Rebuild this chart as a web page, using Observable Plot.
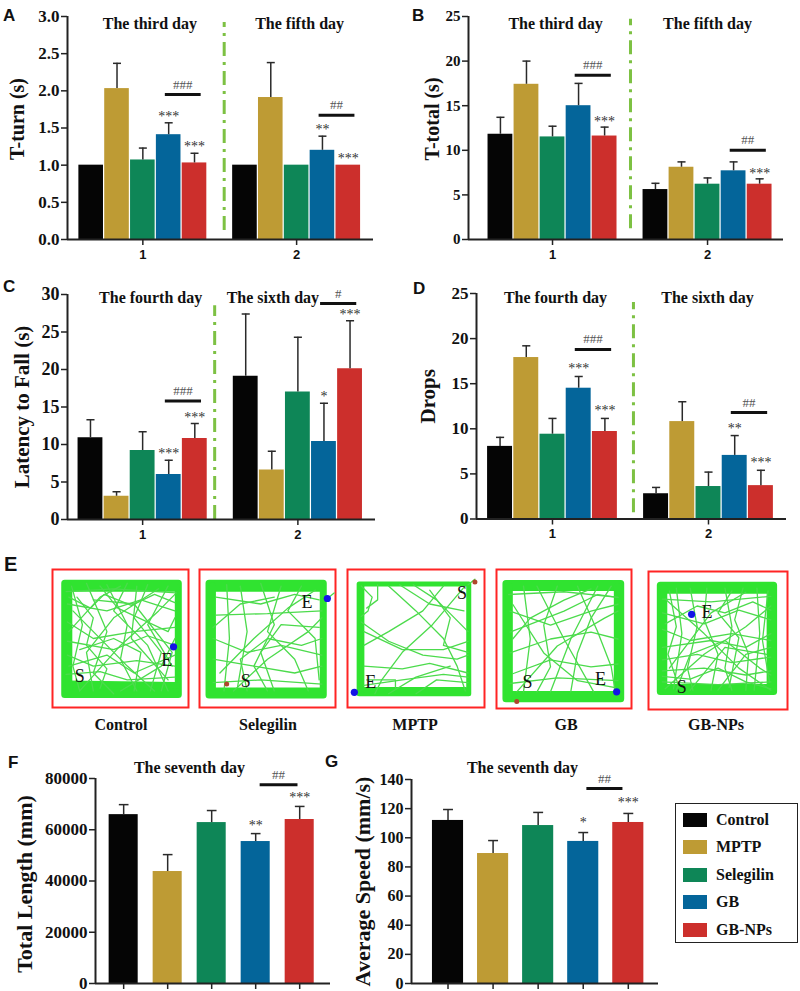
<!DOCTYPE html>
<html><head><meta charset="utf-8">
<script src="https://cdn.jsdelivr.net/npm/d3@7"></script>
<script src="https://cdn.jsdelivr.net/npm/@observablehq/plot@0.6"></script>
<style>
body{margin:0;background:#fff;}
#root{position:relative;width:800px;height:991px;overflow:hidden;background:#fff;}
.pn{position:absolute;}
.pn svg{overflow:visible;}
.let{position:absolute;font-family:"Liberation Sans",Arial,sans-serif;font-weight:bold;font-size:17px;line-height:17px;color:#111;}
.blab{position:absolute;font-family:"Liberation Serif",serif;font-weight:bold;font-size:16px;line-height:16px;color:#111;transform:translateX(-50%);white-space:nowrap;}
#legend{position:absolute;left:675px;top:803px;width:121px;height:138px;border:1.5px solid #222;font-family:"Liberation Serif",serif;font-weight:bold;font-size:16px;color:#111;}
#legend .row{position:absolute;left:7px;height:16px;display:flex;align-items:center;}
#legend .sw{width:24px;height:14px;margin-right:9px;}
</style></head>
<body><div id="root"></div>
<script>
// ---------- data ----------
const groups = ["Control", "MPTP", "Selegilin", "GB", "GB-NPs"];
const colors = ["#050505", "#BE9B34", "#0E8657", "#04659A", "#CC2F2C"];

// A: T-turn (s)
const daysA = ["The third day", "The fifth day"];
const tTurnMean1 = [1.00, 2.03, 1.07, 1.41, 1.03];
const tTurnErr1  = [0, 0.34, 0.16, 0.16, 0.13];
const tTurnMean2 = [1.00, 1.91, 1.00, 1.20, 1.00];
const tTurnErr2  = [0, 0.47, 0, 0.19, 0];
const starsA = [{g:1,i:3,t:"***"},{g:1,i:4,t:"***"},{g:2,i:3,t:"**"},{g:2,i:4,t:"***"}];
const sigsA = [{g:1,y:1.95,t:"###"},{g:2,y:1.67,t:"##"}];

// B: T-total (s)
const tTotalMean1 = [11.8, 17.4, 11.5, 15.0, 11.6];
const tTotalErr1  = [1.9, 2.6, 1.2, 2.5, 1.0];
const tTotalMean2 = [5.6, 8.1, 6.2, 7.7, 6.2];
const tTotalErr2  = [0.7, 0.6, 0.7, 1.0, 0.6];
const starsB = [{g:1,i:4,t:"***"},{g:2,i:4,t:"***"}];
const sigsB = [{g:1,y:18.4,t:"###"},{g:2,y:10.0,t:"##"}];

// C: Latency to Fall (s)
const daysC = ["The fourth day", "The sixth day"];
const latMean1 = [10.9, 3.1, 9.2, 6.0, 10.8];
const latErr1  = [2.4, 0.6, 2.5, 1.9, 2.0];
const latMean2 = [19.1, 6.6, 17.0, 10.4, 20.1];
const latErr2  = [8.3, 2.5, 7.3, 5.1, 6.4];
const starsC = [{g:1,i:3,t:"***"},{g:1,i:4,t:"***"},{g:2,i:3,t:"*"},{g:2,i:4,t:"***"}];
const sigsC = [{g:1,y:15.8,t:"###"},{g:2,y:28.8,t:"#"}];

// D: Drops
const dropMean1 = [8.05, 17.9, 9.4, 14.5, 9.7];
const dropErr1  = [1.0, 1.3, 1.75, 1.3, 1.45];
const dropMean2 = [2.8, 10.8, 3.6, 7.05, 3.7];
const dropErr2  = [0.7, 2.2, 1.6, 2.2, 1.7];
const starsD = [{g:1,i:3,t:"***"},{g:1,i:4,t:"***"},{g:2,i:3,t:"**"},{g:2,i:4,t:"***"}];
const sigsD = [{g:1,y:18.8,t:"###"},{g:2,y:11.8,t:"##"}];

// F: Total Length (mm), the seventh day
const lengthMean = [65900, 43700, 62800, 55400, 64000];
const lengthErr  = [3900, 6600, 4700, 3100, 5100];
const starsF = [{i:3,t:"**"},{i:4,t:"***"}];
const sigsF = [{y:77600,t:"##"}];

// G: Average Speed (mm/s), the seventh day
const speedMean = [111.9, 89.2, 108.4, 97.5, 110.5];
const speedErr  = [7.5, 8.9, 9.0, 6.1, 6.2];
const starsG = [{i:3,t:"*"},{i:4,t:"***"}];
const sigsG = [{y:133.8,t:"##"}];

// E: open-field trajectories (x, y in % of the arena box, y downwards)
const boxNames = ["Control", "Selegilin", "MPTP", "GB", "GB-NPs"];
const wall1 = [[[9,10],[92.5,10],[92.5,90.5],[9,90.5],[9,10]], [[11,13.5],[91,13.5]], [[11,86.5],[91,86.5]], [[11,83],[91,84]], [[12,12],[12,88]]];
const wall2 = [[[7,10],[91,10],[91,91],[7,91],[7,10]], [[9,13.5],[90,13.5]], [[9,88],[90,88]], [[9.5,12],[9.5,89]]];
const wall3 = [[[8.5,10.5],[88.5,10.5],[88.5,90],[8.5,90],[8.5,10.5]], [[10.5,12],[10.5,88]], [[12,87],[86,87]]];
const wall4 = [[[7,10],[92,10],[92,93],[7,93],[7,10]], [[9,13],[90,13]], [[9,90],[90,90]], [[9.5,12],[9.5,91]], [[89.5,12],[89.5,91]]];
const wall5 = [[[8.5,10],[90,10],[90,87],[8.5,87],[8.5,10]], [[11,13.5],[88,13.5]], [[11,84],[88,84]], [[11,12],[11,85]], [[87.5,12],[87.5,85]]];
const track1 = [
 [[10,16],[45,14],[91,17]], [[10,76],[35,74],[55,80],[90,78]],
 [[14,12],[22,40],[15,70],[20,88]], [[25,10],[40,45],[30,75],[45,90]],
 [[40,11],[55,40],[50,65],[62,88]], [[55,10],[45,30],[70,55],[85,88]],
 [[70,11],[60,35],[80,60],[72,88]], [[85,12],[70,40],[88,70]],
 [[11,25],[40,30],[65,22],[90,30]], [[11,38],[30,50],[60,45],[90,42]],
 [[11,52],[45,58],[70,48],[90,55]], [[11,62],[30,70],[62,66],[90,70]],
 [[12,45],[35,20],[50,12]], [[20,88],[50,55],[78,30],[90,18]],
 [[15,30],[55,70],[75,88]], [[30,88],[25,60],[45,35],[78,14]],
 [[60,88],[65,60],[45,50],[20,58]], [[80,88],[88,60],[60,25],[30,22]],
 [[12,70],[40,62],[60,75],[90,62]], [[35,12],[48,28],[85,45],[90,35]],
 [[50,88],[80,70],[90,50]], [[18,20],[30,35],[25,55],[40,72],[35,86]],
 [[12,20],[28,28],[38,18],[58,26],[75,18],[90,24]], [[62,12],[58,50],[85,80]]
];
const track2 = [
 [[10,82],[45,80],[90,83]], [[12,33],[50,32],[90,30]],
 [[20,11],[22,50],[18,88]], [[30,12],[35,45],[28,85]],
 [[45,10],[55,40],[40,70],[50,88]], [[60,12],[50,45],[70,65],[80,88]],
 [[75,12],[65,30],[85,50],[88,80]], [[10,50],[35,60],[60,55],[90,62]],
 [[10,65],[40,70],[70,75],[90,70]], [[12,20],[45,25],[70,18],[88,22]],
 [[15,75],[40,50],[65,28],[85,15]], [[25,88],[50,65],[80,45],[90,35]],
 [[10,42],[30,25],[55,20]], [[55,88],[45,60],[60,40],[88,42]],
 [[35,88],[30,65],[50,50],[75,55],[90,50]], [[94,21],[99,17]]
];
const track3 = [
 [[10,12],[18,20],[15,30],[10,34]], [[22,11],[22,22],[14,28]],
 [[30,12],[50,30],[70,50],[80,70],[86,88]], [[38,11],[60,25],[85,30]],
 [[48,11],[65,22],[88,45]], [[70,12],[55,30],[30,45],[12,55]],
 [[85,13],[62,40],[40,60],[25,80],[20,90]], [[10,38],[30,52],[55,62],[80,65],[88,62]],
 [[12,45],[40,58],[70,58],[88,52]], [[12,70],[40,72],[60,68],[88,75]],
 [[12,84],[40,80],[70,76],[88,78]], [[14,80],[35,80],[35,86]],
 [[50,90],[65,80],[88,82]], [[30,90],[50,78],[75,70]],
 [[60,15],[75,35],[70,55],[88,60]], [[88,11],[93,7]]
];
const track4 = [
 [[10,30],[40,40],[70,30],[90,25]], [[10,45],[50,30],[75,18],[90,20]],
 [[10,60],[40,50],[70,45],[90,50]], [[12,75],[40,65],[70,70],[90,68]],
 [[10,82],[45,78],[90,80]], [[20,12],[25,50],[20,88]],
 [[30,12],[50,50],[72,88]], [[45,12],[35,40],[40,70],[30,88]],
 [[60,12],[75,45],[85,70],[88,88]], [[75,12],[55,50],[40,88]],
 [[85,12],[70,35],[60,60],[55,88]], [[12,25],[35,60],[60,80],[88,85]],
 [[15,88],[45,55],[80,35],[90,30]], [[12,50],[25,35],[50,22],[70,14]],
 [[9,18],[50,16],[90,20]]
];
const track5 = [
 [[10,20],[45,22],[88,18]], [[10,80],[50,82],[88,80]],
 [[10,72],[40,70],[70,75],[88,72]], [[10,64],[35,60],[60,66],[88,62]],
 [[20,12],[24,45],[18,85]], [[30,12],[35,40],[28,70],[32,86]],
 [[42,12],[40,35],[50,60],[45,86]], [[55,12],[60,40],[55,70],[60,86]],
 [[68,12],[62,35],[72,60],[70,86]], [[78,12],[80,45],[76,86]],
 [[86,14],[82,50],[87,80]], [[10,30],[40,38],[65,28],[88,35]],
 [[10,42],[30,50],[60,45],[88,50]], [[10,55],[45,50],[70,55],[88,45]],
 [[12,85],[40,60],[70,40],[88,25]], [[12,20],[40,45],[65,70],[88,86]],
 [[15,70],[45,30],[70,15]], [[30,86],[55,55],[85,60]],
 [[12,38],[35,25],[55,30],[75,22],[88,28]], [[50,86],[70,60],[88,55]],
 [[20,86],[30,60],[55,50],[80,70],[88,75]], [[10,76],[30,78],[50,70],[70,80],[88,85]],
 [[15,14],[20,40],[14,60],[22,84]], [[60,14],[50,30],[65,48],[58,84]]
];
const endDots = [[[89,56]], [[94,21]], [[5,89]], [[89,88]], [[31,31]]];
const startDots = [[], [[20,83]], [[93,9]], [[15,95]], []];
const startLetters = [[20,77], [34,81], [83.5,17], [23,81], [24,84]];
const endLetters = [[84,66], [79,24], [17,82], [77,79], [42,29.5]];

// ---------- layout ----------
const root = document.getElementById("root");
function place(node, left, top) {
  const d = document.createElement("div");
  d.className = "pn"; d.style.left = left + "px"; d.style.top = top + "px";
  d.appendChild(node); root.appendChild(d);
}
function html(cls, text, left, top, extra) {
  const d = document.createElement("div");
  d.className = cls; d.textContent = text;
  d.style.left = left + "px"; d.style.top = top + "px";
  if (extra) Object.assign(d.style, extra);
  root.appendChild(d);
}
const color = {domain: groups, range: colors};
const serif = "Liberation Serif";

function grouped(c) {
  const pitch = 0.168, bw = 0.16;
  const cx = (g, i) => g + (i - 2) * pitch;
  const bars = [];
  c.means.forEach((arr, gi) => arr.forEach((v, i) => bars.push({g: gi + 1, i, v, e: c.errs[gi][i], name: groups[i]})));
  const top = (g, i) => c.means[g - 1][i] + c.errs[g - 1][i];
  const withErr = bars.filter(d => d.e > 0);
  const cap = 0.026;
  const plot = Plot.plot({
    width: c.width, height: c.height,
    marginLeft: c.mL, marginRight: c.mR, marginTop: c.mT, marginBottom: c.mB,
    style: {fontFamily: serif, background: "transparent", color: "#111"},
    x: {domain: c.xDomain, axis: null},
    y: {domain: c.yDomain, axis: null},
    color,
    marks: [
      Plot.rect(bars, {x1: d => cx(d.g, d.i) - bw / 2, x2: d => cx(d.g, d.i) + bw / 2, y1: 0, y2: "v", fill: "name"}),
      Plot.ruleX(withErr, {x: d => cx(d.g, d.i), y1: "v", y2: d => d.v + d.e, stroke: "#2a2a2a", strokeWidth: 1.5}),
      Plot.link(withErr, {x1: d => cx(d.g, d.i) - cap, x2: d => cx(d.g, d.i) + cap, y1: d => d.v + d.e, y2: d => d.v + d.e, stroke: "#2a2a2a", strokeWidth: 1.5}),
      Plot.ruleX([c.divX], {y1: c.divY[0], y2: c.divY[1], stroke: "#7DC143", strokeWidth: 3, strokeDasharray: "14,6,3,6"}),
      Plot.link(c.sigs, {x1: d => cx(d.g, 3) - 0.025, x2: d => cx(d.g, 4) + 0.04, y1: "y", y2: "y", stroke: "#111", strokeWidth: 3}),
      Plot.text(c.sigs, {x: d => (cx(d.g, 3) + cx(d.g, 4)) / 2 + 0.008, y: "y", text: "t", lineAnchor: "bottom", dy: -6, fontSize: 13, fill: "#555"}),
      Plot.text(c.stars, {x: d => cx(d.g, d.i), y: d => top(d.g, d.i), text: "t", lineAnchor: "bottom", dy: -(c.starGap - 7), fontSize: 14, fill: "#333"}),
      Plot.text(c.days, {x: (d, i) => i + 1, frameAnchor: "top", lineAnchor: "bottom", dy: c.titleDy, text: d => d, fontSize: 16, fontWeight: "bold", fill: "#111"}),
      Plot.ruleY([c.yDomain[0]], {stroke: "#222", strokeWidth: 2}),
      Plot.ruleX([c.xDomain[0]], {stroke: "#222", strokeWidth: 2}),
      Plot.axisY({ticks: c.yTicks, tickFormat: c.yFmt, tickSize: 6, tickPadding: 2, strokeWidth: 1.5, stroke: "#222", fontSize: c.tickFont, fontWeight: "bold", fontFamily: serif, fill: "#111", label: null}),
      Plot.axisX({ticks: [1, 2], tickFormat: d => String(d), tickSize: 6, tickPadding: 4, strokeWidth: 1.5, stroke: "#222", fontSize: 13, fontWeight: "bold", fontFamily: "Liberation Sans", fill: "#111", label: null}),
      Plot.text([c.yLabel], {frameAnchor: "left", textAnchor: "middle", lineAnchor: "middle", rotate: -90, dx: c.labelDx, dy: c.labelDy, text: d => d, fontSize: c.labelSize, fontWeight: "bold", fill: "#111"})
    ]
  });
  // shift day titles horizontally
  plot.querySelectorAll("text").forEach(t => {
    const i = c.days.indexOf(t.textContent);
    if (i >= 0) t.setAttribute("transform", (t.getAttribute("transform") || "") + ` translate(${c.titleDx[i]},0)`);
  });
  place(plot, c.left, c.top);
}

function single(c) {
  const hw = c.bw / 2, cap = 0.11;
  const bars = c.means.map((v, i) => ({i, v, e: c.errs[i], name: groups[i]}));
  const top = i => c.means[i] + c.errs[i];
  const plot = Plot.plot({
    width: c.width, height: c.height,
    marginLeft: c.mL, marginRight: c.mR, marginTop: c.mT, marginBottom: c.mB,
    style: {fontFamily: serif, background: "transparent", color: "#111"},
    x: {domain: c.xDomain, axis: null},
    y: {domain: c.yDomain, axis: null},
    color,
    marks: [
      Plot.rect(bars, {x1: d => d.i - hw, x2: d => d.i + hw, y1: 0, y2: "v", fill: "name"}),
      Plot.ruleX(bars, {x: "i", y1: "v", y2: d => d.v + d.e, stroke: "#2a2a2a", strokeWidth: 1.5}),
      Plot.link(bars, {x1: d => d.i - cap, x2: d => d.i + cap, y1: d => d.v + d.e, y2: d => d.v + d.e, stroke: "#2a2a2a", strokeWidth: 1.5}),
      Plot.link(c.sigs, {x1: 3 + c.linePad[0], x2: 4 + c.linePad[1], y1: "y", y2: "y", stroke: "#111", strokeWidth: 3}),
      Plot.text(c.sigs, {x: 3.5 + (c.linePad[0] + c.linePad[1]) / 2, y: "y", text: "t", lineAnchor: "bottom", dy: -6, fontSize: 13, fill: "#555"}),
      Plot.text(c.stars, {x: "i", y: d => top(d.i), text: "t", lineAnchor: "bottom", dy: -(c.starGap - 7), fontSize: 14, fill: "#333"}),
      Plot.text([c.title], {frameAnchor: "top", lineAnchor: "bottom", dy: c.titleDy, dx: c.titleDx, text: d => d, fontSize: 16, fontWeight: "bold", fill: "#111"}),
      Plot.ruleY([c.yDomain[0]], {stroke: "#222", strokeWidth: 2}),
      Plot.ruleX([c.xDomain[0]], {stroke: "#222", strokeWidth: 2}),
      Plot.axisY({ticks: c.yTicks, tickFormat: d => String(d), tickSize: 6, tickPadding: 2, strokeWidth: 1.5, stroke: "#222", fontSize: c.tickFont, fontWeight: "bold", fontFamily: serif, fill: "#111", label: null}),
      Plot.axisX({ticks: [0, 1, 2, 3, 4], tickFormat: () => "", tickSize: 6, strokeWidth: 1.5, stroke: "#222", label: null}),
      Plot.text([c.yLabel], {frameAnchor: "left", textAnchor: "middle", lineAnchor: "middle", rotate: -90, dx: c.labelDx, dy: c.labelDy, text: d => d, fontSize: c.labelSize, fontWeight: "bold", fill: "#111"})
    ]
  });
  place(plot, c.left, c.top);
}

grouped({left: 0, top: 0, width: 400, height: 262, mL: 67, mR: 27, mT: 16, mB: 23,
  xDomain: [0.51, 2.5], yDomain: [0, 3], yTicks: [0, 0.5, 1, 1.5, 2, 2.5, 3], yFmt: d3.format(".1f"),
  means: [tTurnMean1, tTurnMean2], errs: [tTurnErr1, tTurnErr2], days: daysA, titleDx: [7, 3], titleDy: 12,
  yLabel: "T-turn (s)", labelDx: -50, labelDy: -9, labelSize: 20, tickFont: 17,
  divX: 1.529, divY: [0.12, 2.92], stars: starsA, sigs: sigsA, starGap: 9});

grouped({left: 400, top: 0, width: 400, height: 262, mL: 68, mR: 17, mT: 16, mB: 23,
  xDomain: [0.458, 2.49], yDomain: [0, 25], yTicks: [0, 5, 10, 15, 20, 25], yFmt: d => String(d),
  means: [tTotalMean1, tTotalMean2], errs: [tTotalErr1, tTotalErr2], days: daysA, titleDx: [3, 0], titleDy: 12,
  yLabel: "T-total (s)", labelDx: -36, labelDy: -9, labelSize: 20, tickFont: 15,
  divX: 1.503, divY: [1.2, 24.7], stars: starsB, sigs: sigsB, starGap: 8});

grouped({left: 0, top: 260, width: 400, height: 290, mL: 67, mR: 25, mT: 34, mB: 31,
  xDomain: [0.516, 2.5], yDomain: [0, 30], yTicks: [0, 5, 10, 15, 20, 25, 30], yFmt: d => String(d),
  means: [latMean1, latMean2], errs: [latErr1, latErr2], days: daysC, titleDx: [8, -25], titleDy: 8,
  yLabel: "Latency to Fall (s)", labelDx: -45, labelDy: 0, labelSize: 21, tickFont: 18,
  divX: 1.464, divY: [0, 28.5], stars: starsC, sigs: sigsC, starGap: 9});

grouped({left: 400, top: 260, width: 400, height: 290, mL: 76, mR: 14, mT: 33, mB: 31.5,
  xDomain: [0.513, 2.5], yDomain: [0, 25], yTicks: [0, 5, 10, 15, 20, 25], yFmt: d => String(d),
  means: [dropMean1, dropMean2], errs: [dropErr1, dropErr2], days: daysC, titleDx: [3, -1], titleDy: 9,
  yLabel: "Drops", labelDx: -48, labelDy: -10, labelSize: 21, tickFont: 17,
  divX: 1.519, divY: [0.7, 24.0], stars: starsD, sigs: sigsD, starGap: 10});

single({left: 0, top: 740, width: 400, height: 251, mL: 95, mR: 70, mT: 38, mB: 8,
  xDomain: [-0.64, 4.7], yDomain: [0, 80000], yTicks: [0, 20000, 40000, 60000, 80000], bw: 0.66,
  means: lengthMean, errs: lengthErr, title: "The seventh day", titleDx: -23.5, titleDy: -6,
  yLabel: "Total Length (mm)", labelDx: -71, labelDy: 3, labelSize: 22, tickFont: 17,
  stars: starsF, sigs: sigsF, starGap: 11, linePad: [0.09, -0.05]});

single({left: 340, top: 740, width: 340, height: 251, mL: 71, mR: 22, mT: 39, mB: 8,
  xDomain: [-0.81, 4.67], yDomain: [0, 140], yTicks: [0, 20, 40, 60, 80, 100, 120, 140], bw: 0.69,
  means: speedMean, errs: speedErr, title: "The seventh day", titleDx: -12.5, titleDy: -7,
  yLabel: "Average Speed (mm/s)", labelDx: -49, labelDy: 0, labelSize: 22, tickFont: 16,
  stars: starsG, sigs: sigsG, starGap: 13, linePad: [0.07, -0.13]});

// ---------- E: trajectory boxes ----------
const boxes = [
  {left: 51, top: 568, w: 138, h: 140, wall: wall1, track: track1, ringW: 7, label: 121},
  {left: 198, top: 568, w: 138, h: 140, wall: wall2, track: track2, ringW: 7, label: 268},
  {left: 346, top: 568, w: 139, h: 140, wall: wall3, track: track3, ringW: 5, label: 415},
  {left: 495, top: 568, w: 137, h: 141, wall: wall4, track: track4, ringW: 7, label: 566},
  {left: 647, top: 570, w: 141, h: 140, wall: wall5, track: track5, ringW: 7, label: 716}
];
const rows = paths => { const r = []; paths.forEach((p, k) => p.forEach(([x, y]) => r.push({x, y, k}))); return r; };
boxes.forEach((b, j) => {
  const plot = Plot.plot({
    width: b.w, height: b.h, marginTop: 1, marginBottom: 1, marginLeft: 1, marginRight: 1,
    style: {background: "transparent"},
    x: {domain: [0, 100], axis: null},
    y: {domain: [0, 100], reverse: true, axis: null},
    marks: [
      Plot.frame({stroke: "#FF2424", strokeWidth: 2}),
      Plot.line(rows(b.wall), {x: "x", y: "y", z: "k", stroke: "#30E330", strokeWidth: b.ringW, strokeLinejoin: "round", strokeLinecap: "round"}),
      Plot.line(rows(b.track), {x: "x", y: "y", z: "k", stroke: "#4CDB4C", strokeWidth: 1.3}),
      Plot.dot(startDots[j], {x: d => d[0], y: d => d[1], r: 2.5, fill: "#B0452B"}),
      Plot.dot(endDots[j], {x: d => d[0], y: d => d[1], r: 3.6, fill: "#1414E6"}),
      Plot.text([["S", startLetters[j]], ["E", endLetters[j]]], {x: d => d[1][0], y: d => d[1][1], text: d => d[0], fontSize: 18, fontFamily: serif, fill: "#111"})
    ]
  });
  place(plot, b.left, b.top);
  html("blab", boxNames[j], b.label, 717);
});

// ---------- panel letters ----------
[["A", 3, 7], ["B", 412, 7], ["C", 3, 278], ["D", 413, 280], ["F", 8, 754], ["G", 325, 753]]
  .forEach(([t, l, tp]) => html("let", t, l, tp));
html("let", "E", 4, 554, {fontSize: "20px", lineHeight: "20px"});

// ---------- legend ----------
const lg = document.createElement("div"); lg.id = "legend"; root.appendChild(lg);
groups.forEach((g, i) => {
  const r = document.createElement("div"); r.className = "row";
  r.style.top = (8 + i * 27.4) + "px";
  const s = document.createElement("div"); s.className = "sw"; s.style.background = colors[i];
  const t = document.createElement("span"); t.textContent = g;
  r.appendChild(s); r.appendChild(t); lg.appendChild(r);
});
</script>
</body></html>
